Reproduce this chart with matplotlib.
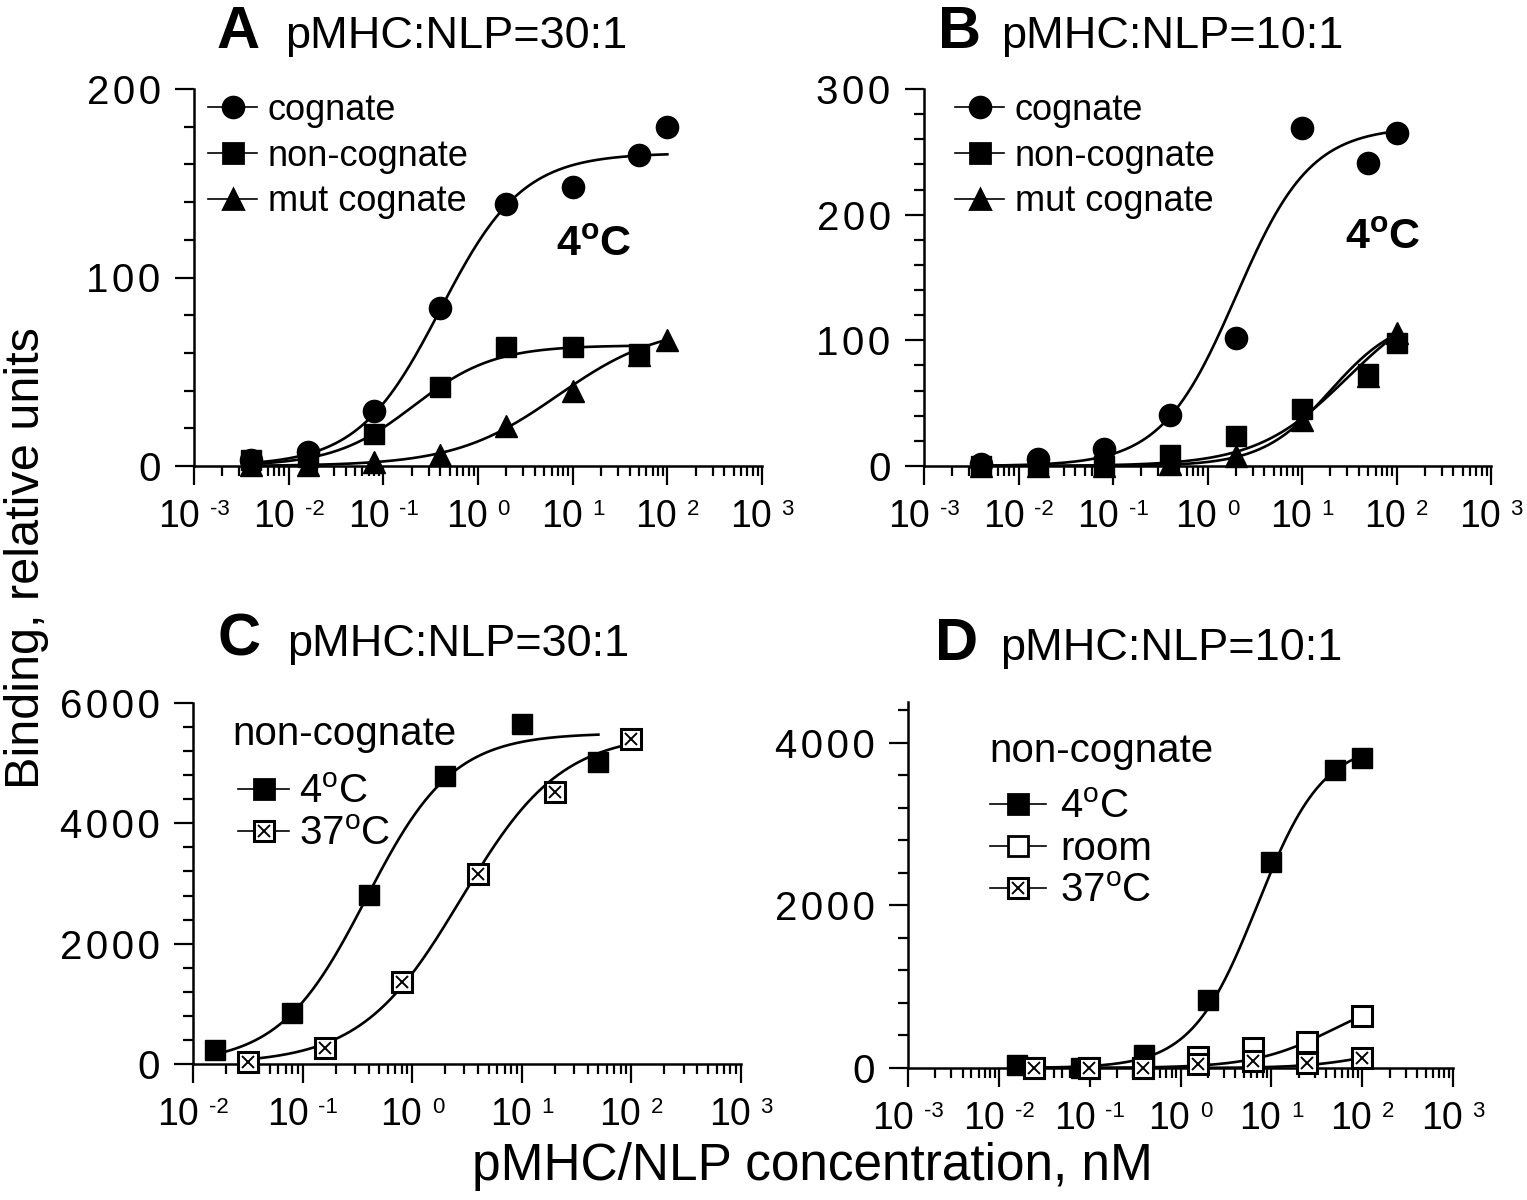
import numpy as np
import matplotlib
matplotlib.use('Agg')
import matplotlib.pyplot as plt
from matplotlib.lines import Line2D
from matplotlib.ticker import MultipleLocator, LogLocator, NullFormatter, FuncFormatter
from matplotlib.offsetbox import TextArea, HPacker, AnnotationBbox

plt.rcParams['font.family'] = ['Liberation Sans', 'DejaVu Sans']
plt.rcParams['mathtext.fontset'] = 'custom'
plt.rcParams['mathtext.rm'] = 'Liberation Sans'
plt.rcParams['mathtext.it'] = 'Liberation Sans:italic'
plt.rcParams['mathtext.bf'] = 'Liberation Sans:bold'

# ---- data ----
# panels A/B: 5-fold dilutions, nM
conc_ab = [0.004, 0.016, 0.08, 0.4, 2, 10, 50, 100]
a_cognate = [3, 7.6, 29, 84, 139, 148, 165, 180]
a_noncog = [3, 5, 17, 42, 63, 63, 59.5]
a_mut = [0.5, 0.5, 2, 6, 21, 40, 59, 67]
b_cognate = [1.3, 5.3, 13.3, 40.6, 102, 269, 241, 265]
b_noncog = [0, 1, 0, 9, 24, 45, 73, 98]
b_mut = [0, 0, 0, 1.3, 8, 37, 72, 106]

# panel C
c_conc_4 = [0.016, 0.08, 0.4, 2, 10, 50]
c_4C = [231, 852, 2813, 4791, 5643, 5022]
c_conc_37 = [0.032, 0.16, 0.8, 4, 20, 100]
c_37C = [38, 258, 1357, 3154, 4516, 5396]

# panel D
d_conc_4 = [0.016, 0.08, 0.4, 2, 10, 50, 100]
d_4C = [41, 5, 165, 833, 2536, 3670, 3814]
d_conc_rt = [0.0244, 0.0977, 0.39, 1.56, 6.25, 25, 100]
d_room = [0, 0, 0, 130, 240, 322, 640]
d_37C = [0, 0, 0, 50, 80, 62, 124]

# sigmoid fit parameters estimated from the drawn curves: top, EC50, hill, x-range
fit_a = {'cognate': (166, 0.4, 1.0, 0.004, 100),
         'noncog': (64, 0.21, 1.03, 0.004, 50),
         'mut': (75, 7, 0.8, 0.004, 100)}
fit_b = {'cognate': (270, 2.0, 1.1, 0.004, 100),
         'noncog': (140, 30, 0.9, 0.004, 100),
         'mut': (120, 20, 1.2, 0.004, 100)}
fit_c = {'4C': (5500, 0.38, 1.1, 0.016, 50),
         '37C': (5500, 2.8, 0.95, 0.032, 100)}
fit_d = {'4C': (4000, 7, 1.2, 0.016, 100),
         'room': (950, 48, 1.0, 0.0244, 100),
         '37C': (300, 130, 1.2, 0.0244, 100)}

W, H = 1527, 1200
fig = plt.figure(figsize=(W / 100, H / 100), dpi=100)


def box(l, r, b, t):
    return [l / W, 1 - b / H, (r - l) / W, (b - t) / H]


def fit_curve(ax, p):
    top, ec50, hill, lo, hi = p
    xs = np.logspace(np.log10(lo), np.log10(hi), 300)
    ax.plot(xs, top / (1 + (ec50 / xs) ** hill), color='k', lw=1.9, zorder=3)


def style(ax, xlo, ytop, major, minor):
    ax.set_xscale('log')
    ax.set_xlim(xlo, 1e3)
    ax.set_ylim(0, ytop)
    for s in ['top', 'right']:
        ax.spines[s].set_visible(False)
    for s in ['left', 'bottom']:
        ax.spines[s].set_linewidth(1.8)
    ax.xaxis.set_major_locator(LogLocator(base=10, numticks=20))
    ax.xaxis.set_minor_locator(LogLocator(base=10, subs=np.arange(2, 10), numticks=20))
    ax.xaxis.set_minor_formatter(NullFormatter())
    ax.yaxis.set_major_locator(MultipleLocator(major))
    ax.yaxis.set_minor_locator(MultipleLocator(minor))
    # digits slightly spaced apart, as in the original
    ax.yaxis.set_major_formatter(FuncFormatter(lambda v, p: '\u200a'.join(str(int(round(v))))))
    ax.tick_params(which='major', length=14, width=1.6, direction='out')
    ax.tick_params(which='minor', length=7, width=1.6, direction='out')
    ax.tick_params(axis='x', labelbottom=False)
    ax.tick_params(axis='y', labelsize=29, pad=10)
    # x tick labels as "10" with a small raised exponent
    for e in range(int(np.log10(xlo)), 4):
        t1 = TextArea('10', textprops=dict(fontsize=27))
        t2 = TextArea(str(e), textprops=dict(fontsize=16))
        pack = HPacker(children=[t1, t2], align='top', pad=0, sep=7)
        ab = AnnotationBbox(pack, (10.0 ** e, 0), xycoords=('data', 'axes fraction'),
                            xybox=(0, -24), boxcoords='offset points',
                            box_alignment=(0.5, 1), frameon=False, pad=0,
                            annotation_clip=False)
        ax.add_artist(ab)


def pts(ax, x, y, marker, crossed=False, ms=15):
    if crossed:
        ax.plot(x, y, ls='none', marker='s', ms=ms, mfc='white', mec='k', mew=2.2,
                clip_on=False, zorder=4)
        ax.plot(x, y, ls='none', marker='x', ms=ms * 0.6, mec='k', mew=1.4,
                clip_on=False, zorder=5)
    elif marker == 'open':
        ax.plot(x, y, ls='none', marker='s', ms=ms, mfc='white', mec='k', mew=2.2,
                clip_on=False, zorder=4)
    else:
        ax.plot(x, y, ls='none', marker=marker, ms=ms, color='k',
                clip_on=False, zorder=4)


def hnd(marker, fill='k', ms=15):
    return Line2D([], [], color='k', lw=1.2, marker=marker, ms=ms, mfc=fill, mec='k', mew=2)


def crossed_hnd(ms=15):
    return (Line2D([], [], color='k', lw=1.2, marker='s', ms=ms, mfc='white', mec='k', mew=2.2),
            Line2D([], [], ls='none', marker='x', ms=ms * 0.6, mec='k', mew=1.4))


# ---- panel A ----
axA = fig.add_axes(box(194, 762, 466, 89))
style(axA, 1e-3, 200, 100, 20)
for k in fit_a:
    fit_curve(axA, fit_a[k])
pts(axA, conc_ab, a_cognate, 'o', ms=16)
pts(axA, conc_ab[:len(a_noncog)], a_noncog, 's')
pts(axA, conc_ab, a_mut, '^', ms=16)
axA.legend([hnd('o', ms=15), hnd('s', ms=14), hnd('^', ms=15)],
           ['cognate', 'non-cognate', 'mut cognate'], loc='upper left',
           bbox_to_anchor=(0.025, 0.99), frameon=False, fontsize=26,
           handlelength=1.35, handletextpad=0.3, labelspacing=0.3,
           borderpad=0, borderaxespad=0)

# ---- panel B ----
axB = fig.add_axes(box(924, 1491, 466, 89))
style(axB, 1e-3, 300, 100, 20)
for k in fit_b:
    fit_curve(axB, fit_b[k])
pts(axB, conc_ab, b_cognate, 'o', ms=16)
pts(axB, conc_ab, b_noncog, 's')
pts(axB, conc_ab, b_mut, '^', ms=16)
axB.legend([hnd('o', ms=15), hnd('s', ms=14), hnd('^', ms=15)],
           ['cognate', 'non-cognate', 'mut cognate'], loc='upper left',
           bbox_to_anchor=(0.055, 0.99), frameon=False, fontsize=26,
           handlelength=1.35, handletextpad=0.3, labelspacing=0.3,
           borderpad=0, borderaxespad=0)

# ---- panel C ----
axC = fig.add_axes(box(193, 741, 1064, 703))
style(axC, 1e-2, 6000, 2000, 400)
for k in fit_c:
    fit_curve(axC, fit_c[k])
pts(axC, c_conc_4, c_4C, 's', ms=14)
pts(axC, c_conc_37, c_37C, None, crossed=True, ms=14)
axC.text(0.071, 0.915, 'non-cognate', transform=axC.transAxes, fontsize=29,
         ha='left', va='center')
axC.legend([hnd('s', ms=15), crossed_hnd(15)],
           ['4$^{\\mathrm{o}}$C', '37$^{\\mathrm{o}}$C'],
           loc='upper left', bbox_to_anchor=(0.083, 0.805), frameon=False,
           fontsize=29, handlelength=1.25, handletextpad=0.25, labelspacing=0.1,
           borderpad=0, borderaxespad=0)

# ---- panel D ----
axD = fig.add_axes(box(908, 1453, 1068, 702))
style(axD, 1e-3, 4500, 2000, 400)
for k in fit_d:
    fit_curve(axD, fit_d[k])
pts(axD, d_conc_4, d_4C, 's')
pts(axD, d_conc_rt, d_room, 'open')
pts(axD, d_conc_rt, d_37C, None, crossed=True)
axD.text(0.150, 0.866, 'non-cognate', transform=axD.transAxes, fontsize=29,
         ha='left', va='center')
axD.legend([hnd('s', ms=15), hnd('s', fill='white', ms=15), crossed_hnd(15)],
           ['4$^{\\mathrm{o}}$C', 'room', '37$^{\\mathrm{o}}$C'],
           loc='upper left', bbox_to_anchor=(0.15, 0.765), frameon=False,
           fontsize=29, handlelength=1.4, handletextpad=0.35, labelspacing=0.1,
           borderpad=0, borderaxespad=0)

# ---- temperature notes ----
fig.text(594 / W, 1 - 245 / H, '$\\mathbf{4^{o}C}$', fontsize=31, ha='center', va='center')
fig.text(1383 / W, 1 - 238 / H, '$\\mathbf{4^{o}C}$', fontsize=31, ha='center', va='center')

# ---- panel titles ----
titles = [('A', 217, 285, 48, 'pMHC:NLP=30:1'),
          ('B', 938, 1001, 48, 'pMHC:NLP=10:1'),
          ('C', 218, 287, 656, 'pMHC:NLP=30:1'),
          ('D', 935, 1000, 660, 'pMHC:NLP=10:1')]
for letter, xl, xt, yb, txt in titles:
    fig.text(xl / W, 1 - yb / H, letter, fontsize=43, fontweight='bold', va='baseline')
    fig.text(xt / W, 1 - yb / H, txt, fontsize=32.5, va='baseline')

fig.text(27 / W, 1 - 558 / H, 'Binding, relative units', fontsize=35, rotation=90,
         ha='center', va='center')
fig.text(812 / W, 1 - 1180 / H, 'pMHC/NLP concentration, nM', fontsize=37,
         ha='center', va='baseline')

fig.savefig('out.png', dpi=100)
